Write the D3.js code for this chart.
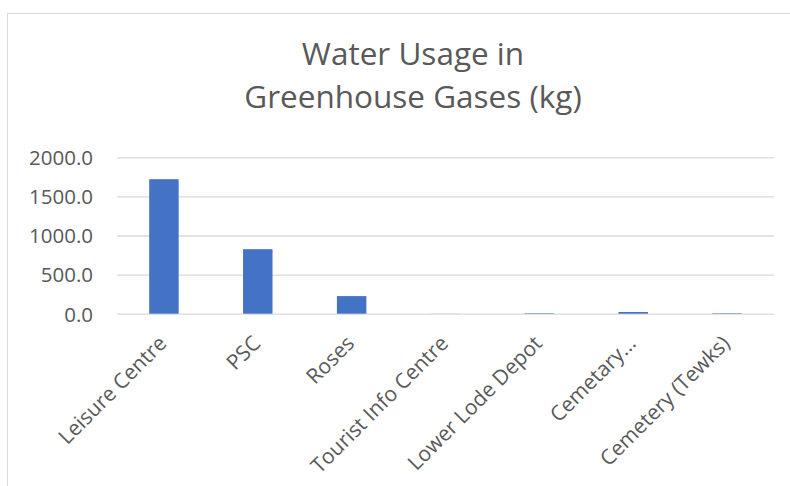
<!DOCTYPE html>
<html>
<head>
<meta charset="utf-8">
<script src="https://cdn.jsdelivr.net/npm/d3@7"></script>
<style>
  body { margin: 0; background: #fff; }
  text { font-family: "Open Sans", sans-serif; fill: #595959; }
</style>
</head>
<body>
<div id="chart"></div>
<script>
// chart data
var categories = ["Leisure Centre", "PSC", "Roses", "Tourist Info Centre", "Lower Lode Depot", "Cemetary...", "Cemetery (Tewks)"];
var values = [1720, 825, 225, 1, 6, 22, 6];
var yTicks = [0, 500, 1000, 1500, 2000];
var titleLines = ["Water Usage in", "Greenhouse Gases (kg)"];

var svgWidth = 790;
var svgHeight = 486;

var margin = { top: 157.3, right: 16, bottom: 172.3, left: 117 };
var width = svgWidth - margin.left - margin.right;
var height = svgHeight - margin.top - margin.bottom;

var svg = d3.select("#chart")
  .append("svg")
  .attr("width", svgWidth)
  .attr("height", svgHeight);

// outer chart border (runs off right and bottom edges)
svg.append("rect")
  .attr("x", 7.5)
  .attr("y", 13.5)
  .attr("width", 820)
  .attr("height", 500)
  .attr("fill", "none")
  .attr("stroke", "#d9d9d9")
  .attr("stroke-width", 1);

// title
svg.append("g")
  .selectAll("text")
  .data(titleLines)
  .enter()
  .append("text")
  .attr("x", 413)
  .attr("y", (d, i) => 65 + i * 43)
  .attr("text-anchor", "middle")
  .style("font-size", "31.5px")
  .text(d => d);

var chartGroup = svg.append("g")
  .attr("transform", `translate(${margin.left}, ${margin.top})`);

var xScale = d3.scaleBand()
  .domain(categories)
  .range([0, width])
  .paddingInner(0.686)
  .paddingOuter(0.343);

var yScale = d3.scaleLinear()
  .domain([0, 2000])
  .range([height, 0]);

// gridlines
var leftAxis = d3.axisLeft(yScale)
  .tickValues(yTicks)
  .tickSize(-width)
  .tickPadding(24)
  .tickFormat(d3.format(".1f"));

var yAxis = chartGroup.append("g")
  .call(leftAxis);
yAxis.select(".domain").remove();
yAxis.selectAll("line")
  .attr("stroke", "#d9d9d9")
  .attr("stroke-width", 1.3);
yAxis.selectAll("text")
  .style("font-size", "20.5px")
  .attr("fill", "#595959")
  .attr("dy", "0.36em");

// bars
chartGroup.selectAll("rect.bar")
  .data(values)
  .enter()
  .append("rect")
  .attr("class", "bar")
  .attr("x", (d, i) => xScale(categories[i]))
  .attr("y", d => yScale(d))
  .attr("width", xScale.bandwidth())
  .attr("height", d => height - yScale(d))
  .attr("fill", "#4472c4");

// category labels, rotated
var bottomAxis = d3.axisBottom(xScale).tickSize(0).tickPadding(0);
var xAxis = chartGroup.append("g")
  .attr("transform", `translate(0, ${height})`)
  .call(bottomAxis);
xAxis.select(".domain").remove();
xAxis.selectAll("text")
  .style("font-size", "21px")
  .attr("fill", "#595959")
  .attr("text-anchor", "end")
  .attr("dy", null)
  .attr("y", null)
  .attr("transform", "translate(4, 31) rotate(-45)");
</script>
</body>
</html>
